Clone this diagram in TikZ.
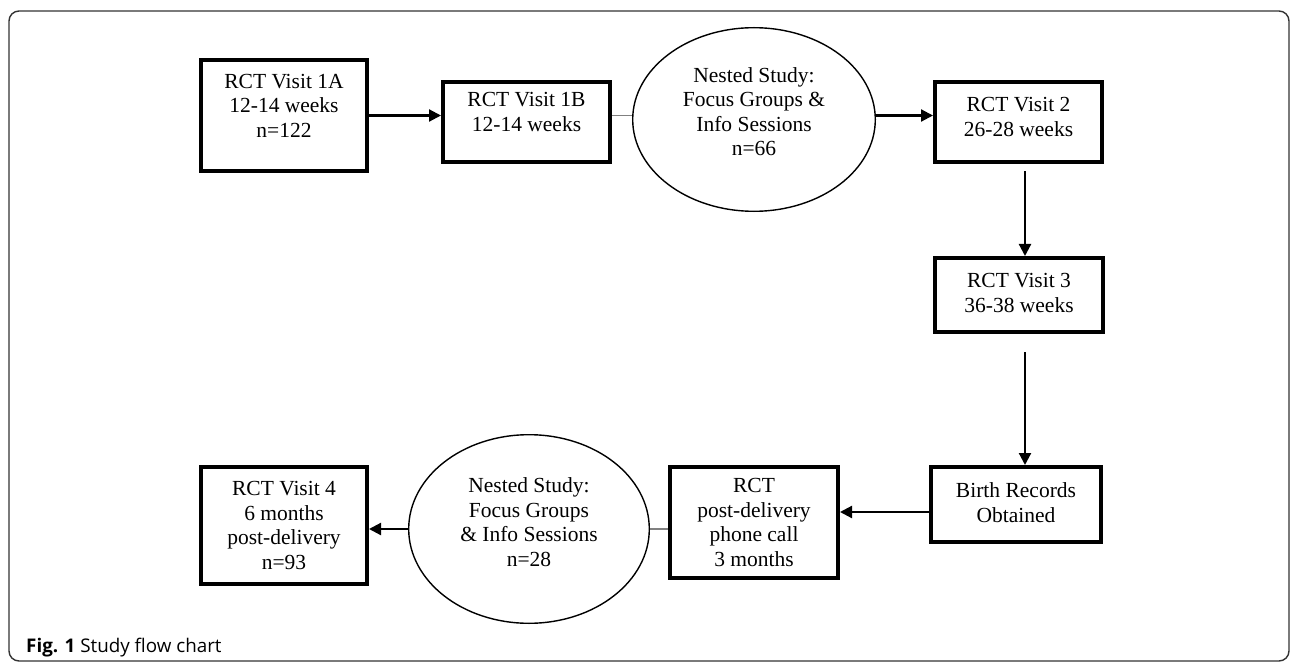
\documentclass[tikz,border=0pt]{standalone}
\usepackage{fontspec}
\setmainfont{Liberation Serif}
\newfontfamily\capfont{Open Sans}
\usetikzlibrary{shapes.geometric}
\usetikzlibrary{arrows.meta}

\tikzset{
  visit/.style={draw=black, line width=4.2bp, align=center, inner sep=2bp,
    font=\fontsize{21.5bp}{24.6bp}\selectfont},
  nested/.style={draw=black, ellipse, line width=1.4bp, align=center, inner sep=0bp,
    font=\fontsize{21.5bp}{24.6bp}\selectfont},
  lift/.style={text depth=#1},
  arr/.style={line width=2.2bp, -{Triangle[length=12bp,width=12bp]}},
  link/.style={line width=1.2bp, black!50}
}

\begin{document}
\begin{tikzpicture}[x=1bp,y=-1bp]
  \useasboundingbox (0,0) rectangle (1293,662);
  \draw[line width=1.4bp, black!80, rounded corners=10bp] (9,11) rectangle (1289,661);
  \node[visit, lift=20bp, minimum width=165.8bp, minimum height=110.8bp] (v1a) at (284,115.5) {RCT Visit 1A\\12-14 weeks\\n=122};
  \node[visit, lift=20bp, minimum width=166.8bp, minimum height=79.8bp] (v1b) at (526.5,122) {RCT Visit 1B\\12-14 weeks};
  \node[nested, lift=16bp, minimum width=242.6bp, minimum height=183.6bp] (ns1) at (754,119.5) {Nested Study:\\Focus Groups \&\\Info Sessions\\n=66};
  \node[visit, lift=10bp, minimum width=166.8bp, minimum height=79.8bp] (v2) at (1018.5,122) {RCT Visit 2\\26-28 weeks};
  \node[visit, lift=4bp, minimum width=167.8bp, minimum height=73.8bp] (v3) at (1019,295) {RCT Visit 3\\36-38 weeks};
  \node[visit, lift=4bp, minimum width=169.8bp, minimum height=74.8bp] (birth) at (1016,504.5) {Birth Records\\Obtained};
  \node[visit, minimum width=167.8bp, minimum height=110.8bp] (phone) at (754,522.5) {RCT\\post-delivery\\phone call\\3 months};
  \node[nested, lift=14bp, minimum width=240.6bp, minimum height=188.6bp] (ns2) at (529,529) {Nested Study:\\Focus Groups\\\& Info Sessions\\n=28};
  \node[visit, minimum width=165.8bp, minimum height=116.8bp] (v4) at (284,525.5) {RCT Visit 4\\6 months\\post-delivery\\n=93};
  \node[anchor=base west, inner sep=0bp, font=\capfont\fontsize{18.8bp}{21bp}\selectfont] (cap) at (26,652) {\textbf{Fig. 1} Study flow chart};
  \draw[arr] (v1a.east) -- (v1b.west |- v1a);
  \draw[link] (v1b.east |- v1a) -- (ns1.west |- v1a);
  \draw[arr] (ns1.east |- v1a) -- (v2.west |- v1a);
  \coordinate (d1) at ([xshift=6.5bp,yshift=-7bp]v2.south);
  \draw[arr] (d1) -- (d1 |- v3.north);
  \coordinate (d2) at ([xshift=6bp,yshift=-18bp]v3.south);
  \draw[arr] (d2) -- (d2 |- birth.north);
  \coordinate (b1) at ([yshift=-7.5bp]birth.west);
  \draw[arr] (b1) -- (b1 -| phone.east);
  \draw[link] (ns2.east) -- (ns2.east -| phone.west);
  \draw[arr] (ns2.west) -- (ns2.west -| v4.east);
\end{tikzpicture}
\end{document}
